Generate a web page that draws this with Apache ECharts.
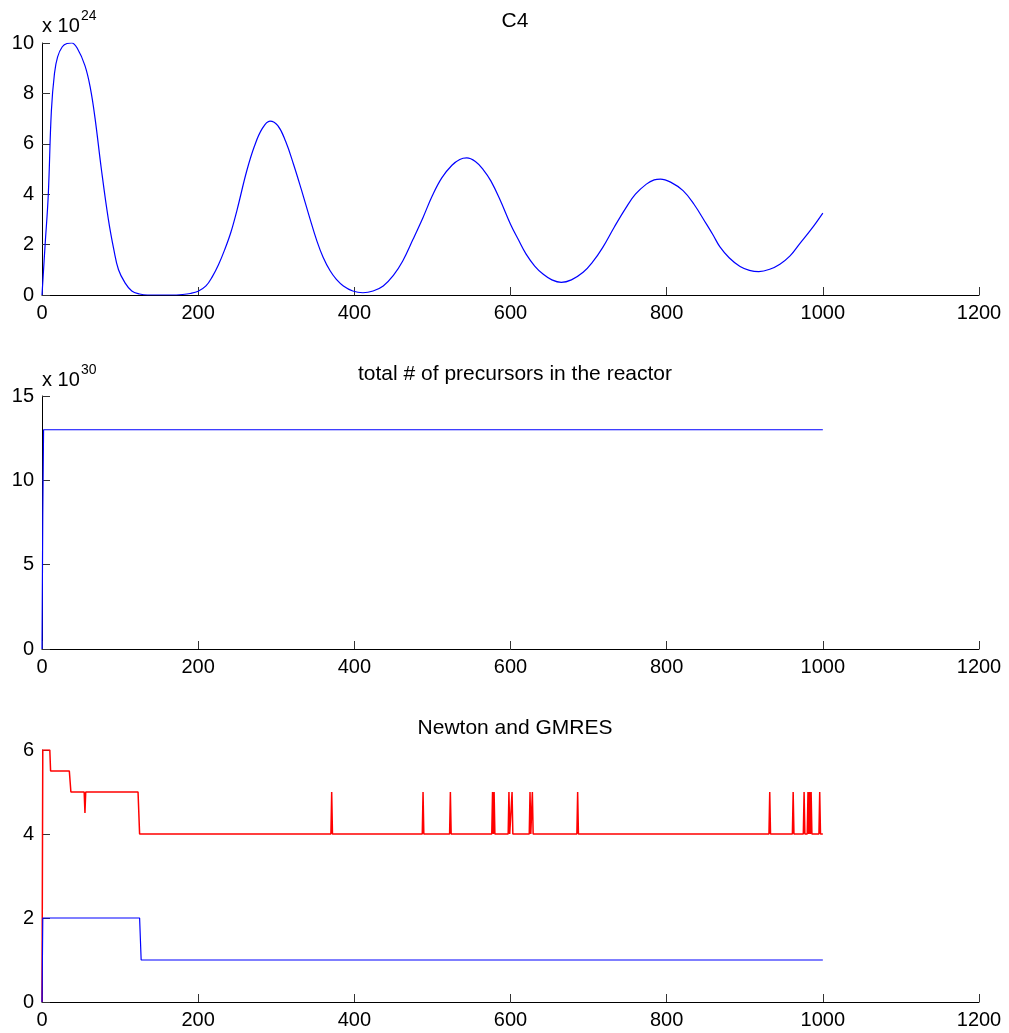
<!DOCTYPE html>
<html>
<head>
<meta charset="utf-8">
<title>C4 / precursors / Newton and GMRES</title>
<script src="https://cdn.jsdelivr.net/npm/echarts@6/dist/echarts.min.js"></script>
<style>
  html, body { margin: 0; padding: 0; background: #fff; }
  #chart { width: 1009px; height: 1033px; }
</style>
</head>
<body>
<div id="chart"></div>
<script>
// x ticks shared by all three panels
const xTicks = [0, 200, 400, 600, 800, 1000, 1200];

// panel 1: C4 (units of 1e24)
const c4X = [0, 4, 8, 12, 16, 20, 26, 32, 38, 45, 55, 62, 68, 76, 85, 92, 98, 106, 115, 125, 135, 150, 165, 180, 190, 200,
  210, 218, 226, 234, 242, 250, 262, 272, 282, 292, 302, 312, 322, 332, 342, 352, 360, 369, 377, 386, 398, 411,
  424, 437, 450, 462, 475, 488, 500, 512, 525, 535, 544, 555, 565, 575, 587, 600, 610, 620, 631, 642, 653, 665,
  678, 693, 705, 718, 733, 748, 760, 774, 784, 792, 805, 821, 835, 851, 860, 868, 880, 894, 906, 918, 932, 945,
  958, 970, 985, 1000];
const c4Y = [0, 2.0, 3.95, 7.3, 8.8, 9.45, 9.85, 9.98, 10.0, 9.8, 9.1, 8.2, 7.0, 5.0, 3.0, 1.8, 1.0, 0.5, 0.16, 0.04, 0.0, 0.0, 0.0, 0.02, 0.06, 0.15,
  0.36, 0.72, 1.2, 1.8, 2.5, 3.4, 4.9, 5.9, 6.6, 6.9, 6.72, 6.1, 5.2, 4.2, 3.15, 2.15, 1.5, 0.96, 0.62, 0.36, 0.16, 0.09,
  0.16, 0.36, 0.78, 1.35, 2.2, 3.08, 3.95, 4.65, 5.15, 5.38, 5.44, 5.3, 4.98, 4.52, 3.75, 2.81, 2.2, 1.62, 1.15, 0.82, 0.6, 0.5,
  0.6, 0.9, 1.3, 1.88, 2.7, 3.47, 4.0, 4.4, 4.57, 4.6, 4.48, 4.14, 3.6, 2.81, 2.35, 1.92, 1.48, 1.13, 0.98, 0.93, 1.02, 1.22,
  1.55, 2.02, 2.6, 3.25];

// panel 2: total # of precursors (units of 1e30)
const precX = [0, 1, 2, 1000];
const precY = [0, 8, 13, 13];

// panel 3: Newton (red) step levels and one-step spikes up to 5
const newtonX = [0, 1, 10, 11, 35, 37, 54, 55, 56, 123, 125, 1000];
const newtonY = [0, 6, 6, 5.5, 5.5, 5, 5, 4.5, 5, 5, 4, 4];
const newtonSpikes = [371, 488, 523, 577, 579, 598, 602, 625, 628, 686, 932, 962, 976, 981, 983, 985, 996];

// panel 3: GMRES (blue)
const gmresX = [0, 1, 125, 127, 1000];
const gmresY = [0, 2, 2, 1, 1];

const titles = ['C4', 'total # of precursors in the reactor', 'Newton and GMRES'];
const font = 'Liberation Sans, Arial, Helvetica, sans-serif';

function pairs(xs, ys) {
  return xs.map((x, i) => [x, ys[i]]);
}

// newton line: base steps with the spikes laid on the flat 4 level
function newtonData() {
  const out = [];
  for (let i = 0; i < newtonX.length; i++) {
    const x = newtonX[i];
    if (i > 0 && newtonY[i] === 4 && newtonY[i - 1] === 4) {
      newtonSpikes.forEach(s => {
        out.push([s - 1, 4], [s, 5], [s + 1, 4]);
      });
    }
    out.push([x, newtonY[i]]);
  }
  return out;
}

const grids = [
  { left: 42, top: 43, width: 937, height: 252 },
  { left: 42, top: 396, width: 937, height: 253 },
  { left: 42, top: 750, width: 937, height: 252 }
];

const yRanges = [
  { max: 10, interval: 2 },
  { max: 15, interval: 5 },
  { max: 6, interval: 2 }
];

const chart = echarts.init(document.getElementById('chart'));

const option = {
  animation: false,
  backgroundColor: '#fff',
  textStyle: { fontFamily: font },
  title: titles.map((t, i) => ({
    text: t,
    left: 510,
    top: grids[i].top - 37,
    textAlign: 'center',
    textStyle: { fontFamily: font, fontSize: 21, fontWeight: 'normal', color: '#000' }
  })),
  grid: grids,
  xAxis: grids.map((g, i) => ({
    type: 'value',
    gridIndex: i,
    min: xTicks[0],
    max: xTicks[xTicks.length - 1],
    interval: 200,
    axisLine: { onZero: false, lineStyle: { color: '#000', width: 1 } },
    axisTick: { inside: true, length: 8, lineStyle: { color: '#333' } },
    axisLabel: { margin: 8, fontSize: 20, color: '#000', fontFamily: font, formatter: v => String(v) },
    splitLine: { show: false }
  })),
  yAxis: grids.map((g, i) => ({
    type: 'value',
    gridIndex: i,
    min: 0,
    max: yRanges[i].max,
    interval: yRanges[i].interval,
    axisLine: { show: true, lineStyle: { color: '#000', width: 1 } },
    axisTick: { show: true, inside: true, length: 8, lineStyle: { color: '#333' } },
    axisLabel: { margin: 8, fontSize: 20, color: '#000', fontFamily: font, formatter: v => String(v) },
    splitLine: { show: false }
  })),
  graphic: [
    {
      type: 'text', left: 42, top: 16,
      style: { text: 'x 10', font: '20px ' + font, fill: '#000' }
    },
    {
      type: 'text', left: 81, top: 9,
      style: { text: '24', font: '14px ' + font, fill: '#000' }
    },
    {
      type: 'text', left: 42, top: 370,
      style: { text: 'x 10', font: '20px ' + font, fill: '#000' }
    },
    {
      type: 'text', left: 81, top: 363,
      style: { text: '30', font: '14px ' + font, fill: '#000' }
    }
  ],
  series: [
    {
      type: 'line', xAxisIndex: 0, yAxisIndex: 0,
      data: pairs(c4X, c4Y), smooth: 0.4, showSymbol: false,
      lineStyle: { color: '#0000ff', width: 1.2 }
    },
    {
      type: 'line', xAxisIndex: 1, yAxisIndex: 1,
      data: pairs(precX, precY), showSymbol: false,
      lineStyle: { color: '#0000ff', width: 1.2 }
    },
    {
      type: 'line', xAxisIndex: 2, yAxisIndex: 2,
      data: newtonData(), showSymbol: false,
      lineStyle: { color: '#ff0000', width: 1.5 }
    },
    {
      type: 'line', xAxisIndex: 2, yAxisIndex: 2,
      data: pairs(gmresX, gmresY), showSymbol: false,
      lineStyle: { color: '#0000ff', width: 1.2 }
    }
  ]
};

chart.setOption(option);
</script>
</body>
</html>
